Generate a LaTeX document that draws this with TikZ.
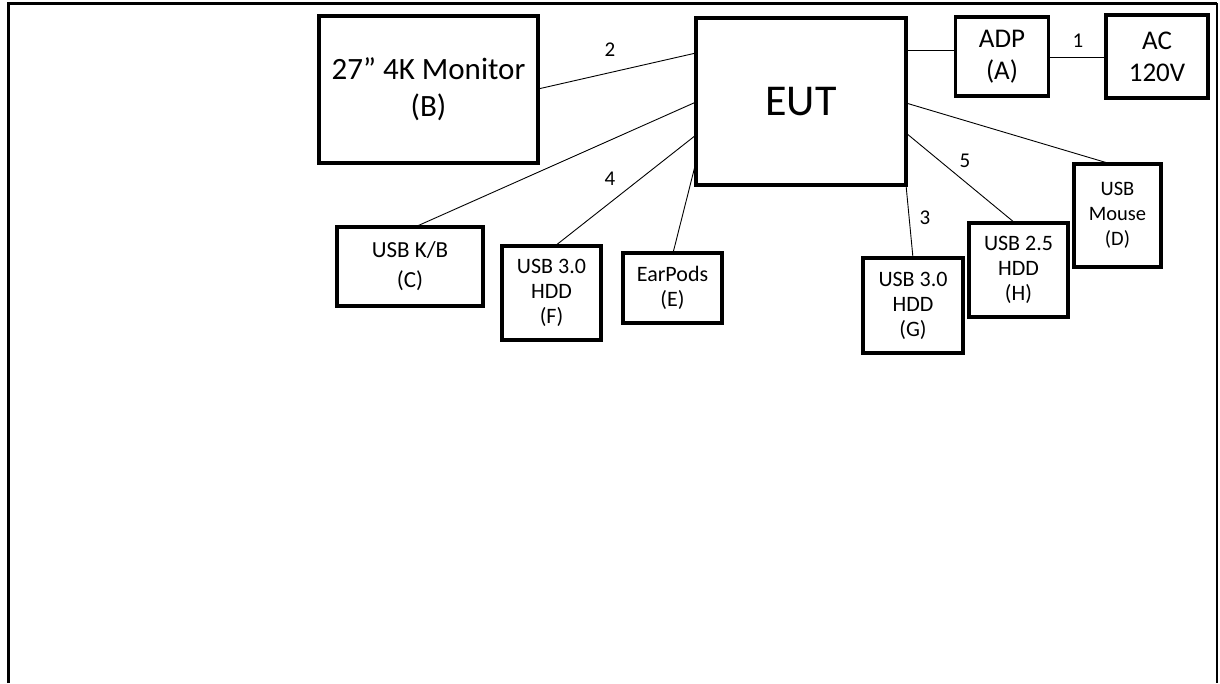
\documentclass[tikz,border=0pt]{standalone}
\usepackage{fontspec}
\setmainfont{Carlito}
\usetikzlibrary{positioning}
\begin{document}
\begin{tikzpicture}[x=1pt,y=-1pt,
  box/.style={draw,line width=3.5pt,inner sep=0pt,outer sep=0pt,align=center},
  small/.style={box,font=\fontsize{22}{25}\selectfont},
  mid/.style={box,font=\fontsize{27}{32}\selectfont},
  lbl/.style={font=\fontsize{21}{22}\selectfont,inner sep=0pt},
  wire/.style={line width=0.9pt}]
\useasboundingbox (0,0) rectangle (1220,683);
% frame
\draw[line width=3pt] (8,683) -- (8,3) -- (1217,3);
\draw[line width=2pt] (1217,3) -- (1217,683);
% units
\node[box,minimum width=219pt,minimum height=147pt,font=\fontsize{31}{37}\selectfont] (mon) at (428.5,89.5) {27” 4K Monitor\\(B)};
\node[box,minimum width=210pt,minimum height=167pt,font=\fontsize{44}{44}\selectfont] (eut) at (801,101.5) {EUT};
\node[mid,minimum width=93pt,minimum height=79pt] (adp) at (1002,56.5) {ADP\\(A)};
\node[mid,minimum width=102pt,minimum height=83pt] (ac) at (1157,56.5) {AC\\120V};
\node[small,minimum width=146pt,minimum height=79pt,font=\fontsize{23}{30}\selectfont] (kb) at (410,266.5) {USB K/B\\(C)};
\node[small,minimum width=99pt,minimum height=94pt] (hddf) at (551.5,293) {USB 3.0\\HDD\\(F)};
\node[small,minimum width=99pt,minimum height=70pt] (ear) at (672.5,288) {EarPods\\(E)};
\node[small,minimum width=100pt,minimum height=95pt] (hddg) at (913,305.5) {USB 3.0\\HDD\\(G)};
\node[small,minimum width=99pt,minimum height=94pt] (hddh) at (1018.5,270) {USB 2.5\\HDD\\(H)};
\node[small,minimum width=87pt,minimum height=103pt,font=\fontsize{20.5}{25}\selectfont] (mouse) at (1117.5,215.5) {USB\\Mouse\\(D)};
% cables
\draw[wire] (mon.east |- 0,89) -- (eut.west |- 0,53);
\draw[wire] (eut.west |- 0,102) -- (kb.north -| 415,0);
\draw[wire] (eut.west |- 0,135) -- (hddf.north -| 555,0);
\draw[wire] (eut.west |- 0,162) -- (ear.north -| 673,0);
\draw[wire] (eut.south east) -- (hddg.north -| 913,0);
\draw[wire] (eut.east |- 0,133) -- (hddh.north -| 1015,0);
\draw[wire] (eut.east |- 0,103) -- (mouse.north -| 1111,0);
\draw[wire] (eut.east |- 0,50) -- (adp.west |- 0,50);
\draw[wire] (adp.east |- 0,57) -- (ac.west |- 0,57);
% cable numbers
\node[lbl] (c1) at (1078,41) {1};
\node[lbl] (c2) at (610,50) {2};
\node[lbl] (c3) at (925,218) {3};
\node[lbl] (c4) at (610,179) {4};
\node[lbl] (c5) at (965,161) {5};
\end{tikzpicture}
\end{document}
